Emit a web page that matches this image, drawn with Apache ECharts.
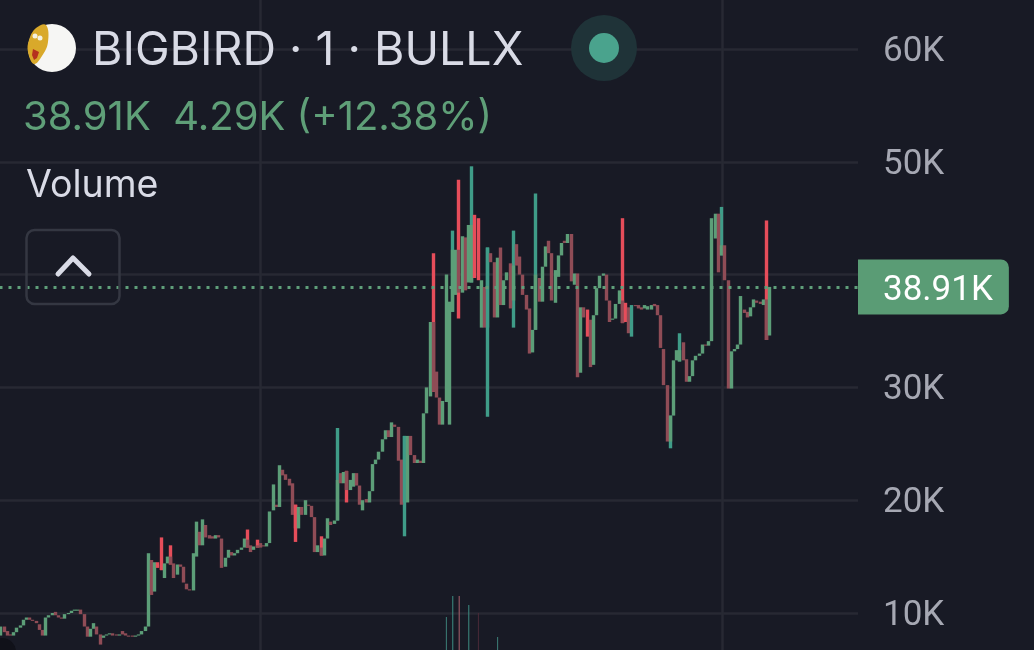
<!DOCTYPE html>
<html>
<head>
<meta charset="utf-8">
<title>BIGBIRD</title>
<style>
  html, body { margin: 0; padding: 0; background: #181a25; }
  #main { width: 1034px; height: 650px; }
</style>
<script src="https://cdn.jsdelivr.net/npm/echarts@6/dist/echarts.min.js"></script>
</head>
<body>
<div id="main"></div>
<script>
// prices in K, one entry per 1 minute candle
var opens = [
  8.0,8.8,8.4,8.1,8.0,8.3,8.7,8.9,9.4,9.6,9.4,9.3,9.0,8.5,8.0,9.6,9.8,10.1,9.8,9.6,
  9.5,9.9,10.0,10.2,10.2,10.3,9.9,8.8,7.9,8.6,8.8,8.1,7.8,8.0,8.1,8.2,8.1,8.0,8.4,8.2,
  8.0,8.0,7.9,8.0,8.1,8.4,8.8,14.7,11.9,14.5,14.3,13.1,14.4,15.0,14.4,13.4,14.3,14.1,12.6,12.1,
  12.0,15.0,17.2,16.0,17.8,16.9,16.8,16.6,16.9,16.6,14.1,14.9,15.4,15.1,15.3,15.6,15.8,16.5,16.0,15.6,
  16.0,16.2,16.0,15.9,16.2,19.1,19.6,19.4,22.7,22.3,21.9,21.5,19.6,17.5,19.4,18.7,19.6,19.5,18.5,15.4,
  15.8,15.1,16.6,18.1,17.9,18.2,22.4,21.5,22.6,20.9,21.2,22.4,21.3,19.1,20.1,19.8,20.8,23.2,23.6,24.3,
  25.4,26.2,25.6,26.7,26.5,23.6,19.8,19.8,25.7,24.0,23.3,23.5,23.3,27.7,29.2,35.8,31.4,29.1,26.7,28.7,
  26.7,36.7,38.2,42.2,38.4,43.3,39.3,39.3,45.3,45.0,35.3,38.9,35.3,41.9,41.1,36.2,42.4,37.3,39.5,41.0,
  37.7,42.7,41.6,40.0,38.2,37.0,33.1,35.1,39.7,37.6,40.7,43.0,41.9,37.5,39.8,41.7,43.0,42.8,43.6,39.1,
  40.1,31.3,37.1,36.9,36.0,32.0,36.4,38.8,39.9,40.0,37.7,36.0,36.1,37.4,37.7,37.5,37.1,34.5,37.3,37.3,
  37.1,37.0,36.9,36.9,37.4,37.3,36.4,33.4,30.2,25.2,27.5,32.4,32.3,34.0,32.5,30.5,31.0,32.4,32.8,33.0,
  33.8,33.7,34.1,43.2,45.4,41.7,42.6,39.5,29.9,33.2,33.4,33.8,36.9,36.7,36.3,37.1,37.7,37.6,37.3,37.8,
  34.6
];
var closes = [
  8.8,8.3,8.0,8.0,8.3,8.7,8.9,9.4,9.6,9.4,9.3,9.1,8.5,8.0,9.6,9.8,10.0,9.8,9.6,9.5,
  9.9,10.0,10.2,10.3,10.3,9.9,8.8,7.9,8.6,9.1,8.1,7.2,8.0,8.1,8.2,8.0,8.0,8.1,8.1,8.0,
  7.9,7.9,8.0,8.1,8.4,8.8,15.3,11.6,14.5,14.0,13.8,14.4,15.0,14.3,13.1,14.3,14.1,12.7,12.1,12.0,
  15.3,18.1,16.0,18.3,16.7,16.6,16.6,16.9,16.7,14.0,14.9,15.6,15.1,15.3,15.6,15.8,16.6,15.8,15.4,15.9,
  15.8,15.8,15.9,16.2,19.0,21.4,19.4,23.1,22.2,21.8,21.3,18.7,17.5,19.4,18.7,20.0,19.5,18.5,15.4,16.0,
  15.1,16.6,18.4,17.8,18.2,21.8,21.5,22.5,20.9,21.8,22.4,21.3,19.6,20.0,19.8,20.8,23.2,23.6,24.3,25.4,
  26.2,25.6,26.9,26.5,23.5,19.6,25.7,25.7,24.0,23.3,23.6,23.3,27.7,30.0,35.8,29.6,29.1,26.7,28.8,40.0,
  37.6,42.2,42.2,38.4,43.4,38.6,44.4,44.4,39.7,39.5,39.5,35.3,42.4,41.1,36.2,41.5,37.3,39.5,40.2,37.0,
  40.8,40.8,40.0,38.2,36.9,33.0,35.1,40.0,37.6,40.7,42.5,41.9,37.7,40.4,41.7,42.8,42.8,43.6,39.4,40.1,
  30.9,37.1,36.2,34.5,31.8,36.4,38.8,39.9,40.1,37.7,35.8,36.1,37.4,38.6,35.7,35.8,34.8,37.3,37.2,37.0,
  36.9,37.3,37.2,37.3,37.2,36.4,33.5,30.2,25.2,27.5,32.4,33.3,33.3,32.4,30.5,31.0,32.4,32.8,33.0,33.8,
  33.7,34.1,45.0,45.4,40.2,42.6,39.5,29.9,33.2,33.4,33.8,38.1,36.6,36.2,37.1,37.8,37.5,37.4,37.8,34.2,
  38.91
];
// wicks, by candle number; a candle not listed has no wick on that side
var wickHighs = {
  50:16.7, 53:16.0, 77:17.4, 80:16.5, 100:16.8, 105:26.4, 135:41.9, 141:43.9, 143:48.4, 147:49.6,
  160:43.9, 167:47.2, 194:45.0, 212:34.8, 225:46.0, 239:44.8
};
var wickLows = {
  92:16.3, 108:19.8, 126:16.8, 143:36.1, 152:27.4, 160:35.3, 209:24.6
};
// candles whose body shows the full colour instead of the dull one
var brightBodies = [49, 50, 92, 126, 148, 149, 152, 183, 195, 197];

// volume, rough height only, the rest of the bars are off the picture
var volumeCandles = [139, 141, 143, 146, 149, 155];
var volumes = [33, 54, 54, 45, 37, 13];
var volumeColors = ['#3d8079', '#3d8e84', '#a8606c', '#3d8e84', '#4a2a38', '#3d8079'];

var yTicks = [0, 10, 20, 30, 40, 50, 60, 70];
var lastPrice = 38.91;
var gridCandles = [81, 225]; // vertical grid lines sit on these candles

var slots = [];
for (var i = 0; i < 268; i++) slots.push(i);

var upBright = '#3f9c88', downBright = '#e64d5a';
var upDull = '#5c9e78', downDull = '#8f4c56';

var wickData = [], bodyData = [], volumeData = [];
for (var i = 0; i < opens.length; i++) {
  var o = opens[i], c = closes[i];
  var bodyTop = Math.max(o, c), bodyBottom = Math.min(o, c);
  if (wickHighs[i] || wickLows[i]) {
    wickData.push([o, c, wickLows[i] || bodyBottom, wickHighs[i] || bodyTop]);
  } else {
    wickData.push('-');
  }
  var item = { value: [o, c, bodyBottom, bodyTop] };
  if (brightBodies.indexOf(i) > -1) {
    var col = c > o ? upBright : downBright;
    item.itemStyle = { color: col, color0: col, borderColor: col, borderColor0: col };
  }
  bodyData.push(item);
  var v = volumeCandles.indexOf(i);
  volumeData.push(v > -1 ? { value: volumes[v], itemStyle: { color: volumeColors[v] } } : '-');
}

var option = {
  animation: false,
  backgroundColor: '#181a25',
  grid: [
    { left: -0.5, right: 176, top: -63.8, height: 789.6, outerBoundsMode: 'none' },
    { left: -0.5, right: 176, top: 550, height: 100, outerBoundsMode: 'none' }
  ],
  xAxis: [
    {
      type: 'category', data: slots, gridIndex: 0,
      axisLine: { show: false }, axisTick: { show: false }, axisLabel: { show: false },
      splitLine: {
        show: true,
        alignWithLabel: true,
        interval: function (index) { return gridCandles.indexOf(index) > -1; },
        lineStyle: { color: '#272933', width: 2.5 }
      }
    },
    {
      type: 'category', data: slots, gridIndex: 1,
      axisLine: { show: false }, axisTick: { show: false }, axisLabel: { show: false },
      splitLine: { show: false }
    }
  ],
  yAxis: [
    {
      type: 'value', position: 'right', gridIndex: 0,
      min: yTicks[0], max: yTicks[yTicks.length - 1], interval: 10,
      axisLine: { show: false }, axisTick: { show: false },
      axisLabel: {
        margin: 25,
        formatter: function (val) { return '{tick|' + val + 'K}'; },
        rich: {
          tick: { color: '#a6a8b3', fontSize: 35, fontFamily: 'Roboto', padding: [6, 0, 0, 0] }
        }
      },
      splitLine: { lineStyle: { color: '#272933', width: 2.5 } }
    },
    {
      type: 'value', gridIndex: 1, min: 0, max: 100, show: false
    }
  ],
  series: [
    {
      type: 'bar', xAxisIndex: 1, yAxisIndex: 1, data: volumeData, barWidth: 1
    },
    {
      name: 'wick', type: 'candlestick', data: wickData, barWidth: 1,
      itemStyle: {
        color: upBright, color0: downBright, borderColor: upBright, borderColor0: downBright,
        borderWidth: 3.4
      }
    },
    {
      name: 'body', type: 'candlestick', data: bodyData, barWidth: 1,
      itemStyle: {
        color: upDull, color0: downDull, borderColor: upDull, borderColor0: downDull,
        borderWidth: 3.4
      },
      markLine: {
        silent: true, symbol: 'none', animation: false,
        data: [{ yAxis: lastPrice }],
        lineStyle: { color: '#5f9f7a', type: [3, 6], width: 3 },
        label: {
          position: 'end', distance: 0, formatter: '{price|38.91K}',
          backgroundColor: '#5a9c75', borderRadius: [0, 8, 8, 0],
          padding: [9, 16, 9, 25],
          rich: {
            price: { color: '#ffffff', fontSize: 35, fontFamily: 'Roboto', lineHeight: 37, padding: [8, 0, 0, 0] }
          }
        }
      }
    }
  ],
  graphic: [
    // coin icon
    { type: 'circle', z: 100, shape: { cx: 52, cy: 48, r: 24 }, style: { fill: '#f6f6f4' } },
    { type: 'polygon', z: 101, shape: { smooth: 0.4, points: [[46, 25], [36, 28], [29, 40], [28, 52], [34, 64], [42, 56], [48, 42]] }, style: { fill: '#d9a92a' } },
    { type: 'circle', z: 102, shape: { cx: 35, cy: 36, r: 2.5 }, style: { fill: '#f4f1e0' } },
    { type: 'circle', z: 102, shape: { cx: 40, cy: 38, r: 2.5 }, style: { fill: '#f4f1e0' } },
    { type: 'polygon', z: 102, shape: { points: [[33, 49], [39, 52], [37, 58], [34, 60], [32, 55]] }, style: { fill: '#b5311e' } },
    // header texts
    { type: 'text', z: 100, style: { x: 92, y: 51, text: 'BIGBIRD · 1 · BULLX', fill: '#d9dbe6', font: '400 46.5px Inter', textVerticalAlign: 'middle' } },
    { type: 'text', z: 100, style: { x: 23, y: 118, text: '38.91K  4.29K (+12.38%)', fill: '#5f9f78', font: '400 40px Inter', textVerticalAlign: 'middle' } },
    { type: 'text', z: 100, style: { x: 26, y: 186, text: 'Volume', fill: '#d9dbe6', font: '400 37.5px Inter', textVerticalAlign: 'middle' } },
    // status dot
    { type: 'circle', z: 100, shape: { cx: 604, cy: 48, r: 33 }, style: { fill: '#1f3338' } },
    { type: 'circle', z: 101, shape: { cx: 604, cy: 48, r: 15 }, style: { fill: '#4aa38d' } },
    // collapse button
    { type: 'rect', z: 100, shape: { x: 26.5, y: 230, width: 93, height: 74, r: 8 }, style: { fill: 'transparent', stroke: '#343742', lineWidth: 2.5 } },
    { type: 'polyline', z: 100, shape: { points: [[58, 274], [73, 258], [89, 274]] }, style: { fill: 'none', stroke: '#d9dbe6', lineWidth: 5, lineCap: 'round', lineJoin: 'round' } },
    // logo corner at the bottom left
    { type: 'circle', z: 100, shape: { cx: 2, cy: 652, r: 14 }, style: { fill: '#101119' } }
  ]
};

var chart = echarts.init(document.getElementById('main'), null, { renderer: 'canvas' });
chart.setOption(option);
</script>
</body>
</html>
